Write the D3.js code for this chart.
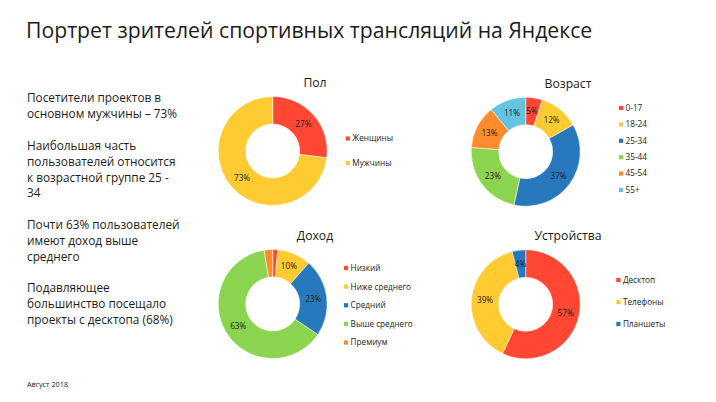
<!DOCTYPE html>
<html>
<head>
<meta charset="utf-8">
<script src="https://cdnjs.cloudflare.com/ajax/libs/d3/7.8.5/d3.min.js"></script>
<style>
  html, body { margin: 0; padding: 0; background: #fff; }
  svg { display: block; }
  text { font-family: "Open Sans", sans-serif; fill: #1c1c1c; }
</style>
</head>
<body>
<svg id="chart" width="716" height="402"></svg>
<script>
const title = "Портрет зрителей спортивных трансляций на Яндексе";
const footnote = "Август 2018";

const notes = [
  ["Посетители проектов в", "основном мужчины – 73%"],
  ["Наибольшая часть", "пользователей относится", "к возрастной группе 25 -", "34"],
  ["Почти 63% пользователей", "имеют доход выше", "среднего"],
  ["Подавляющее", "большинство посещало", "проекты с десктопа (68%)"],
];

const red = "#ff4733", yellow = "#ffcb33", blue = "#2878bd", green = "#8ad44f", orange = "#ff8c2b", cyan = "#63c3e0";

const genderCats = ["Женщины", "Мужчины"];
const genderVals = [27, 73];
const genderColors = [red, yellow];

const ageCats = ["0-17", "18-24", "25-34", "35-44", "45-54", "55+"];
const ageVals = [5, 12, 37, 23, 13, 11];
const ageColors = [red, yellow, blue, green, orange, cyan];

const incomeCats = ["Низкий", "Ниже среднего", "Средний", "Выше среднего", "Премиум"];
const incomeVals = [1.5, 10, 23, 63, 2.5];
const incomeColors = [red, yellow, blue, green, orange];

const deviceCats = ["Десктоп", "Телефоны", "Планшеты"];
const deviceVals = [57, 39, 4];
const deviceColors = [red, yellow, blue];

const svg = d3.select("#chart");
const rOuter = 54.5;
const rInner = 27;

svg.append("text")
  .attr("x", 26).attr("y", 38.3)
  .attr("font-size", 21.2)
  .text(title);

svg.append("text")
  .attr("x", 27).attr("y", 387)
  .attr("font-size", 7.3)
  .text(footnote);

// left column
const noteTops = [102.3, 150, 229, 292.3];
notes.forEach((lines, i) => {
  svg.append("g")
    .selectAll("text")
    .data(lines)
    .join("text")
    .attr("x", 27)
    .attr("y", (d, j) => noteTops[i] + j * 15.8)
    .attr("font-size", 11.8)
    .text((d) => d);
});

function donut(o) {
  const g = svg.append("g").attr("transform", `translate(${o.cx},${o.cy})`);
  const pie = d3.pie().sort(null).value((d) => d);
  const arc = d3.arc().innerRadius(rInner).outerRadius(rOuter);
  const labelArc = d3.arc().innerRadius(rOuter * 0.75).outerRadius(rOuter * 0.75);
  const arcs = pie(o.values);

  g.selectAll("path")
    .data(arcs)
    .join("path")
    .attr("d", arc)
    .attr("fill", (d, i) => o.colors[i])
    .attr("stroke", "#fff")
    .attr("stroke-width", 0.5);

  g.selectAll("text")
    .data(arcs.filter((d) => d.value >= 4))
    .join("text")
    .attr("transform", (d) => `translate(${labelArc.centroid(d)})`)
    .attr("text-anchor", "middle")
    .attr("dy", "0.35em")
    .attr("font-size", 8.2)
    .text((d) => Math.round(d.value) + "%");

  svg.append("text")
    .attr("x", o.titleX).attr("y", o.titleY)
    .attr("text-anchor", "middle")
    .attr("font-size", 12.2)
    .text(o.name);

  const y = d3.scalePoint().domain(o.cats).range(o.legendY);
  const lg = svg.append("g").selectAll("g")
    .data(o.cats)
    .join("g")
    .attr("transform", (d) => `translate(${o.legendX},${y(d)})`);
  lg.append("rect")
    .attr("x", 0).attr("y", -2.1)
    .attr("width", 4.2).attr("height", 4.2)
    .attr("fill", (d, i) => o.colors[i]);
  lg.append("text")
    .attr("x", 6.6)
    .attr("dy", "0.35em")
    .attr("font-size", 8.2)
    .attr("fill", "#333")
    .text((d) => d);
}

donut({ name: "Пол", cats: genderCats, values: genderVals, colors: genderColors,
  cx: 272.7, cy: 151, titleX: 315, titleY: 87, legendX: 345.7, legendY: [138.5, 163] });
donut({ name: "Возраст", cats: ageCats, values: ageVals, colors: ageColors,
  cx: 525.7, cy: 151.7, titleX: 568, titleY: 87.5, legendX: 619, legendY: [108, 190] });
donut({ name: "Доход", cats: incomeCats, values: incomeVals, colors: incomeColors,
  cx: 272.7, cy: 304, titleX: 315, titleY: 240, legendX: 344, legendY: [268, 342.5] });
donut({ name: "Устройства", cats: deviceCats, values: deviceVals, colors: deviceColors,
  cx: 525.7, cy: 304.3, titleX: 568, titleY: 240, legendX: 616.3, legendY: [280, 324] });
</script>
</body>
</html>
